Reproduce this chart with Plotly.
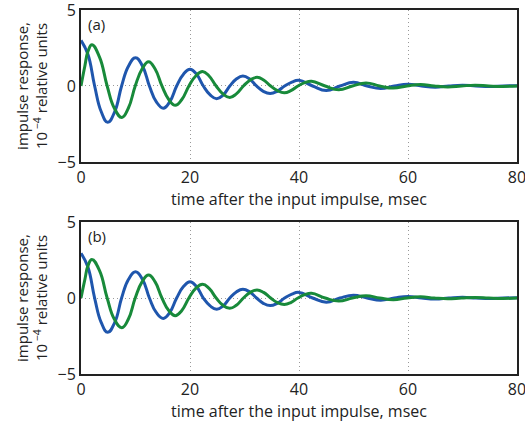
import plotly.graph_objects as go
from plotly.subplots import make_subplots

# ---- data (time in msec, response in 1e-4 relative units) ----
t_blue_a = [0, 1.25, 2.5, 3.7, 4.9, 6.2, 7.45, 8.7, 10, 11.3, 12.55, 13.8, 15.1, 16.3,
            17.55, 18.8, 20, 21.2, 22.45, 23.7, 24.9, 26.1, 27.3, 28.5, 29.7, 30.95,
            32.2, 33.45, 34.7, 36, 37.35, 38.7, 40, 42.5, 45, 47.5, 50, 52.5, 55, 57.5,
            60, 62.5, 65, 67.5, 70, 72.5, 75, 77.5, 80]
v_blue_a = [3.0, 2.1, 0, -1.68, -2.39, -1.68, 0, 1.3, 1.86, 1.3, 0, -1.03, -1.46, -1.03,
            0, 0.78, 1.10, 0.77, 0, -0.59, -0.84, -0.59, 0, 0.46, 0.65, 0.46,
            0, -0.35, -0.49, -0.35, 0, 0.26, 0.37, 0, -0.30, 0, 0.24, 0, -0.17, 0,
            0.12, 0, -0.08, 0, 0.05, 0, -0.04, 0, 0.02]

t_green_a = [0, 0.7, 1.3, 2.0, 3.4, 4.8, 6.1, 7.5, 8.7, 9.95, 11.2, 12.4, 13.6, 14.85,
             16.1, 17.3, 18.5, 19.8, 21.05, 22.3, 23.5, 24.8, 26.05, 27.3, 28.5, 29.8,
             31.05, 32.3, 33.5, 34.8, 36.05, 37.3, 38.5, 39.8, 41.05, 42.3, 44.8, 47.3,
             49.8, 52.3, 54.8, 57.3, 59.8, 62.3, 64.8, 67.3, 69.8, 72.3, 74.8, 77.3, 80]
v_green_a = [0, 1.3, 2.3, 2.72, 1.9, 0, -1.45, -2.07, -1.45, 0, 1.12, 1.60, 1.12, 0,
             -0.89, -1.27, -0.89, 0, 0.66, 0.95, 0.66, 0, -0.52, -0.75, -0.52, 0,
             0.40, 0.57, 0.40, 0, -0.31, -0.45, -0.31, 0, 0.22, 0.31, 0, -0.25,
             0, 0.20, 0, -0.14, 0, 0.10, 0, -0.06, 0, 0.05, 0, -0.03, 0]

t_blue_b = t_blue_a
v_blue_b = [2.94, 2.05, 0, -1.6, -2.26, -1.6, 0, 1.22, 1.73, 1.22, 0, -0.95, -1.34, -0.95,
            0, 0.75, 1.07, 0.75, 0, -0.52, -0.74, -0.52, 0, 0.40, 0.57, 0.40,
            0, -0.35, -0.50, -0.35, 0, 0.26, 0.37, 0, -0.28, 0, 0.18, 0, -0.14, 0,
            0.10, 0, -0.07, 0, 0.05, 0, -0.04, 0, 0.02]

t_green_b = t_green_a
v_green_b = [0, 1.2, 2.15, 2.54, 1.8, 0, -1.38, -1.95, -1.38, 0, 1.06, 1.51, 1.06, 0,
             -0.82, -1.16, -0.82, 0, 0.63, 0.90, 0.63, 0, -0.48, -0.68, -0.48, 0,
             0.37, 0.53, 0.37, 0, -0.30, -0.42, -0.30, 0, 0.22, 0.31, 0, -0.20,
             0, 0.15, 0, -0.11, 0, 0.08, 0, -0.05, 0, 0.04, 0, -0.03, 0]

panel_labels = ["(a)", "(b)"]
x_ticks = [0, 20, 40, 60, 80]
y_ticks = [-5, 0, 5]
x_title = "time after the input impulse, msec"
y_title = "impulse response,<br>10<sup> −4</sup> relative units"

BLUE = "#1f56ad"
GREEN = "#188a3a"
FONT = "Open Sans"
TXT = "#222"

fig = make_subplots(rows=2, cols=1, vertical_spacing=0.165)

series = [
    (1, t_blue_a, v_blue_a, BLUE), (1, t_green_a, v_green_a, GREEN),
    (2, t_blue_b, v_blue_b, BLUE), (2, t_green_b, v_green_b, GREEN),
]
for row, t, v, c in series:
    fig.add_trace(go.Scatter(x=t, y=v, mode="lines",
                             line=dict(color=c, width=3, shape="spline", smoothing=1.3),
                             showlegend=False, hoverinfo="skip"), row=row, col=1)

for row in (1, 2):
    fig.update_xaxes(range=[0, 80], tickvals=x_ticks, showgrid=True,
                     gridcolor="#999", griddash="1px,3px", gridwidth=1,
                     showline=True, linecolor=TXT, linewidth=2, mirror=True,
                     ticks="", zeroline=False, automargin=False,
                     ticklabeloverflow="allow",
                     title=dict(text=x_title, standoff=0,
                                font=dict(family=FONT, size=16, color=TXT)),
                     tickfont=dict(family=FONT, size=16, color=TXT),
                     row=row, col=1)
    fig.update_yaxes(range=[-5, 5], tickvals=y_ticks, showgrid=True,
                     gridcolor="#999", griddash="1px,3px", gridwidth=1,
                     showline=True, linecolor=TXT, linewidth=2, mirror=True,
                     ticks="", zeroline=False, automargin=False,
                     ticklabeloverflow="allow",
                     title=dict(text=y_title, standoff=6,
                                font=dict(family=FONT, size=15, color=TXT)),
                     tickfont=dict(family=FONT, size=16, color=TXT),
                     row=row, col=1)

for i, lab in enumerate(panel_labels):
    ax = "x domain" if i == 0 else "x2 domain"
    ay = "y domain" if i == 0 else "y2 domain"
    fig.add_annotation(text=lab, xref=ax, yref=ay, x=0.012, y=0.99,
                       xanchor="left", yanchor="top", showarrow=False,
                       font=dict(family=FONT, size=15, color=TXT))

fig.update_layout(width=525, height=424, margin=dict(l=81, r=8, t=10, b=50),
                  plot_bgcolor="white", paper_bgcolor="white",
                  font=dict(family=FONT, color=TXT))

fig.write_html("out.html", config={"displayModeBar": False},
               post_script="document.body.style.margin='0';document.body.style.overflow='hidden';")
